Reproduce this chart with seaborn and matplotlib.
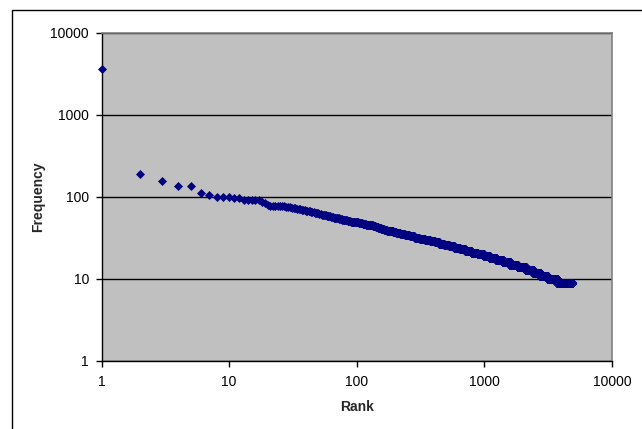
import numpy as np
import pandas as pd
import matplotlib
matplotlib.use("Agg")
import matplotlib.pyplot as plt
import matplotlib.ticker as mticker
import seaborn as sns

# frequencies of the top 30 ranks, read one by one
head_freq = [3600, 190, 157, 135, 135, 112, 105, 101, 101, 100,
             97, 96, 92, 92, 92, 92, 91, 88, 84, 80,
             78, 78, 78, 78, 78, 77, 77, 76, 76, 75]

# tail: each frequency and the last rank that has it
tail_freq = [74, 73, 72, 71, 70, 69, 68, 67, 66, 65,
             64, 63, 62, 61, 60, 59, 58, 57, 56, 55,
             54, 53, 52, 51, 50, 49, 48, 47, 46, 45,
             44, 43, 42, 41, 40, 39, 38, 37, 36, 35,
             34, 33, 32, 31, 30, 29, 28, 27, 26, 25,
             24, 23, 22, 21, 20, 19, 18, 17, 16, 15,
             14, 13, 12, 11, 10, 9]
tail_last_rank = [32, 33, 34, 36, 37, 39, 41, 43, 45, 46,
                  48, 50, 52, 55, 57, 59, 62, 65, 68, 72,
                  76, 80, 84, 89, 95, 103, 110, 118, 127, 133,
                  140, 147, 155, 163, 172, 182, 192, 203, 219, 237,
                  259, 283, 310, 341, 375, 408, 443, 484, 529, 581,
                  641, 708, 792, 884, 987, 1099, 1236, 1397, 1588, 1820,
                  2107, 2416, 2740, 3125, 3730, 4900]

tick_values = [1, 10, 100, 1000, 10000]

counts = np.diff([len(head_freq)] + tail_last_rank)
freq = np.concatenate([head_freq, np.repeat(tail_freq, counts)])
df = pd.DataFrame({"Rank": np.arange(1, len(freq) + 1), "Frequency": freq})

sns.set_style("white")
plt.rcParams["font.family"] = ["Liberation Sans", "DejaVu Sans"]

fig = plt.figure(figsize=(6.42, 4.29), dpi=100)
ax = fig.add_axes([101.5 / 642, 1 - 361 / 429, (612 - 101.5) / 642, (361 - 33) / 429])
ax.set_facecolor("#c0c0c0")

sns.scatterplot(data=df, x="Rank", y="Frequency", marker="D", s=21,
                color="#000080", linewidth=0, ax=ax, clip_on=False, zorder=3)

ax.set_xscale("log")
ax.set_yscale("log")
ax.set_xlim(1, 10000)
ax.set_ylim(1, 10000)
ax.set_xticks(tick_values)
ax.set_yticks(tick_values)
ax.minorticks_off()
fmt = mticker.FuncFormatter(lambda v, _: f"{v:g}")
ax.xaxis.set_major_formatter(fmt)
ax.yaxis.set_major_formatter(fmt)

ax.yaxis.grid(True, color="black", linewidth=1)
ax.xaxis.grid(False)
ax.set_axisbelow(True)

for side in ["left", "bottom"]:
    ax.spines[side].set_color("black")
    ax.spines[side].set_linewidth(1)
for side in ["top", "right"]:
    ax.spines[side].set_color("#808080")
    ax.spines[side].set_linewidth(1.2)

ax.tick_params(axis="both", which="major", direction="out", length=4, width=1,
               color="black", labelsize=10, labelcolor="black")
ax.tick_params(axis="x", pad=6)
ax.tick_params(axis="y", pad=5)
ax.tick_params(bottom=True, left=True)

ax.set_xlabel("Rank", fontsize=10, fontweight="bold", labelpad=8)
ax.set_ylabel("Frequency", fontsize=10, fontweight="bold", labelpad=4)

# outer chart frame
fig.add_artist(plt.Rectangle((12 / 642, -0.1), 1.1, 1 - 10 / 429 + 0.1,
                             transform=fig.transFigure, fill=False,
                             edgecolor="black", linewidth=1))

fig.savefig("out.png", dpi=100)
